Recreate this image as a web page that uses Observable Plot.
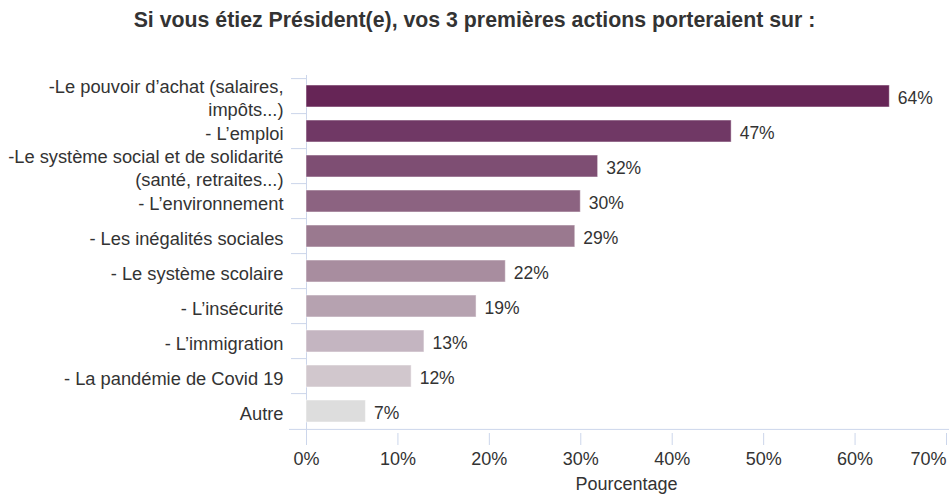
<!DOCTYPE html>
<html><head><meta charset="utf-8">
<script src="https://cdn.jsdelivr.net/npm/d3@7"></script>
<script src="https://cdn.jsdelivr.net/npm/@observablehq/plot@0.6"></script>
<style>
body{margin:0;background:#fff;font-family:"Liberation Sans",Arial,sans-serif;}
#title{height:41px;line-height:41px;text-align:center;font-weight:bold;font-size:21.3px;color:#333;white-space:nowrap;}
</style></head><body>
<div id="title">Si vous étiez Président(e), vos 3 premières actions porteraient sur :</div>
<div id="chart"></div>
<script>
const categories = [
  "-Le pouvoir d’achat (salaires,\nimpôts...)",
  "- L’emploi",
  "-Le système social et de solidarité\n(santé, retraites...)",
  "- L’environnement",
  "- Les inégalités sociales",
  "- Le système scolaire",
  "- L’insécurité",
  "- L’immigration",
  "- La pandémie de Covid 19",
  "Autre"
];
const values = [63.8, 46.5, 31.9, 30.0, 29.4, 21.8, 18.6, 12.9, 11.5, 6.5];
const valueLabels = ["64%", "47%", "32%", "30%", "29%", "22%", "19%", "13%", "12%", "7%"];
const xTicks = [0, 10, 20, 30, 40, 50, 60, 70];
const xTitle = "Pourcentage";
const palette = ["#662556", "#703865", "#7e4e73", "#8c6381", "#9a798f", "#a88d9f", "#b6a2b0", "#c4b5c1", "#d1c7cd", "#dddddd"];

const rows = categories.map((c, i) => ({category: c, value: values[i], label: valueLabels[i]}));
const W = 949, H = 454, mT = 34, mB = 62, mL = 306, mR = 3;
const step = (H - mT - mB) / categories.length;
const axisColor = "#ccd6eb";
const textColor = "#333333";

const chart = Plot.plot({
  width: W, height: H,
  marginTop: mT, marginBottom: mB, marginLeft: mL, marginRight: mR,
  style: {fontFamily: "'Liberation Sans', Arial, sans-serif", fontSize: "18px", color: textColor, background: "#fff", overflow: "visible"},
  x: {domain: [xTicks[0], xTicks[xTicks.length - 1]]},
  y: {domain: categories, paddingInner: 0.37, paddingOuter: 0.185},
  color: {domain: categories, range: palette},
  marks: [
    Plot.ruleY(categories, {dy: -step / 2, stroke: axisColor, insetLeft: -15, insetRight: W - mL - mR}),
    Plot.ruleY([categories[categories.length - 1]], {dy: step / 2, stroke: axisColor, insetLeft: -17, insetRight: -3}),
    Plot.ruleX([xTicks[0]], {stroke: axisColor}),
    Plot.barX(rows, {x: "value", y: "category", fill: "category", stroke: "#fff", strokeOpacity: 0.5}),
    Plot.text(rows, {x: "value", y: "category", text: "label", textAnchor: "start", dx: 8, dy: 2, fill: textColor, fontSize: 17.5}),
    Plot.axisY({tickSize: 0, tickPadding: 23, lineHeight: 1.26, fill: textColor, dy: 1, fontSize: 18.3, label: null}),
    Plot.axisX(xTicks.slice(0, -1), {tickSize: 12, tickPadding: 7, stroke: axisColor, fill: textColor, tickFormat: d => d + "%", label: null}),
    Plot.axisX(xTicks.slice(-1), {tickSize: 12, tickPadding: 7, stroke: axisColor, fill: textColor, tickFormat: d => d + "%", textAnchor: "end", label: null}),
    Plot.text([xTitle], {frameAnchor: "bottom", lineAnchor: "bottom", dy: 56.5, fill: textColor})
  ]
});
document.getElementById("chart").appendChild(chart);
</script>
</body></html>
